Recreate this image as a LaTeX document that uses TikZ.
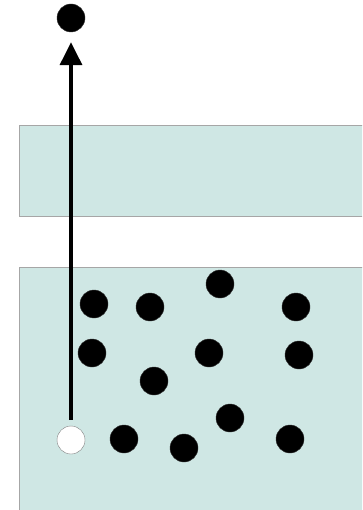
\documentclass[tikz,border=0pt]{standalone}
\usetikzlibrary{arrows.meta}
\definecolor{slab}{HTML}{CFE7E4}

\begin{document}
\begin{tikzpicture}[
  x=1pt, y=-1pt,
  >=Triangle,
  layer/.style={draw=gray!70, fill=slab, line width=0.8pt},
  dot/.style={circle, draw=black!80, fill=black, inner sep=0pt, minimum size=28pt},
  hole/.style={circle, draw=gray, fill=white, inner sep=0pt, minimum size=28pt}
]
\useasboundingbox (0,0) rectangle (362,510);
\clip (0,0) rectangle (362,510);
\fill[white] (0,0) rectangle (362,510);
\draw[layer] (19,125) rectangle (370,216);
\draw[layer] (19,267) rectangle (370,520);
\node[dot] (out) at (71,18) {};
\node[hole] (vac) at (71,440) {};
\node[dot] (e1) at (94,304) {};
\node[dot] (e2) at (150,307) {};
\node[dot] (e3) at (220,284) {};
\node[dot] (e4) at (296,307) {};
\node[dot] (e5) at (92,353) {};
\node[dot] (e6) at (209,353) {};
\node[dot] (e7) at (299,355) {};
\node[dot] (e8) at (154,381) {};
\node[dot] (e9) at (124,439) {};
\node[dot] (e10) at (184,448) {};
\node[dot] (e11) at (230,418) {};
\node[dot] (e12) at (290,439) {};
\draw[-{Triangle[length=23pt,width=22pt]}, line width=3.5pt, shorten <=6pt, shorten >=10pt] (vac) -- (out);
\end{tikzpicture}
\end{document}
